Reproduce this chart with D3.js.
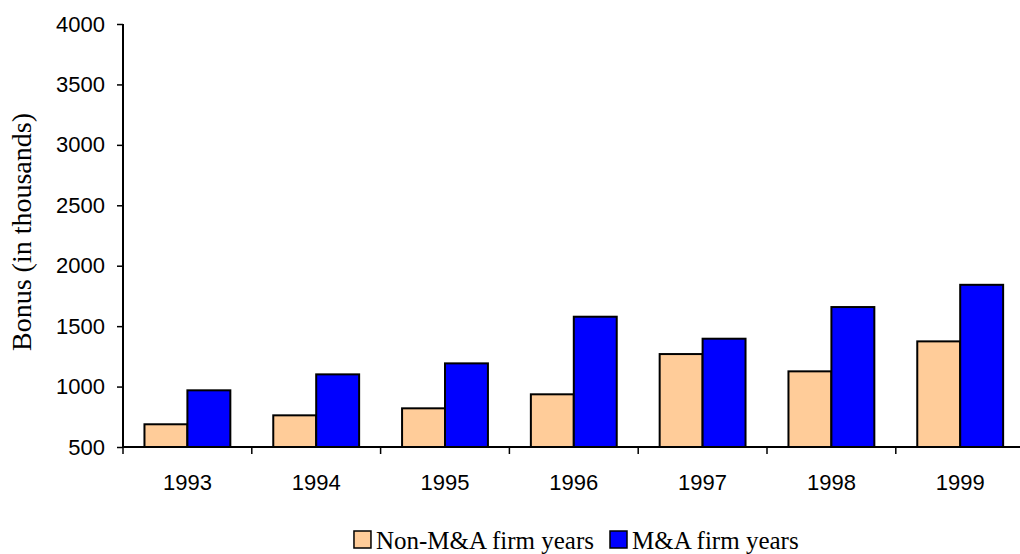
<!DOCTYPE html>
<html>
<head>
<meta charset="utf-8">
<script src="https://cdn.jsdelivr.net/npm/d3@7"></script>
<style>
  body { margin: 0; background: #fff; }
  svg { display: block; }
</style>
</head>
<body>
<div id="chart-area"></div>
<script>
// values
var years = ["1993", "1994", "1995", "1996", "1997", "1998", "1999"];
var nonMA = [688, 762, 820, 936, 1269, 1126, 1374];
var withMA = [969, 1101, 1192, 1578, 1396, 1658, 1842];
var seriesNames = ["Non-M&A firm years", "M&A firm years"];
var yTicks = [500, 1000, 1500, 2000, 2500, 3000, 3500, 4000];

var width = 1020, height = 554;
var plotLeft = 123, plotTop = 24, plotBottom = 447;
var bandW = 128.8;

var svg = d3.select("#chart-area").append("svg")
	.attr("width", width)
	.attr("height", height);

var x = d3.scaleBand()
	.domain(years)
	.range([plotLeft, plotLeft + bandW * years.length]);

// two bars per year, half a bar of gap on each side
var x1 = d3.scaleBand()
	.domain([0, 1])
	.range([0, x.bandwidth()])
	.paddingOuter(0.5)
	.paddingInner(0);

var y = d3.scaleLinear()
	.domain([500, 4000])
	.range([plotBottom, plotTop]);

var colors = ["#FFCC99", "#0000FF"];

var rows = years.map(function(yr, i){
	return {year: yr, vals: [nonMA[i], withMA[i]]};
});

// bars
var groups = svg.selectAll("g.year")
	.data(rows)
	.enter().append("g")
		.attr("class", "year")
		.attr("transform", function(d){ return "translate(" + x(d.year) + ",0)"; });

groups.selectAll("rect")
	.data(function(d){ return d.vals; })
	.enter().append("rect")
		.attr("x", function(d, i){ return x1(i); })
		.attr("y", function(d){ return y(d); })
		.attr("width", x1.bandwidth())
		.attr("height", function(d){ return y(500) - y(d); })
		.style("fill", function(d, i){ return colors[i]; })
		.style("stroke", "#000")
		.style("stroke-width", 2);

// y axis
var yAxis = svg.append("g")
	.attr("transform", "translate(" + plotLeft + ",0)")
	.call(d3.axisLeft(y).tickValues(yTicks).tickSize(6).tickPadding(12).tickFormat(d3.format("d")));
yAxis.select(".domain").attr("d", "M0," + plotTop + "V" + plotBottom).style("stroke-width", 2);
yAxis.selectAll(".tick line").style("stroke-width", 1.5);
yAxis.selectAll("text")
	.style("font-family", "'Liberation Sans', Arial, sans-serif")
	.style("font-size", "22px")
	.style("fill", "#000");

// x axis (ticks at band edges)
var xAxis = svg.append("g")
	.attr("transform", "translate(0," + plotBottom + ")");
xAxis.append("line")
	.attr("x1", plotLeft).attr("x2", width)
	.style("stroke", "#000").style("stroke-width", 2);
xAxis.selectAll("line.tick")
	.data(years)
	.enter().append("line")
		.attr("class", "tick")
		.attr("x1", function(d){ return x(d); })
		.attr("x2", function(d){ return x(d); })
		.attr("y1", 0).attr("y2", 7)
		.style("stroke", "#000").style("stroke-width", 1.5);
xAxis.selectAll("text")
	.data(years)
	.enter().append("text")
		.attr("x", function(d){ return x(d) + x.bandwidth() / 2; })
		.attr("y", 43)
		.attr("text-anchor", "middle")
		.style("font-family", "'Liberation Sans', Arial, sans-serif")
		.style("font-size", "22px")
		.text(function(d){ return d; });

// y label
svg.append("text")
	.attr("transform", "translate(31,232) rotate(-90)")
	.attr("text-anchor", "middle")
	.style("font-family", "'Liberation Serif', 'Times New Roman', serif")
	.style("font-size", "28px")
	.text("Bonus (in thousands)");

// legend
var leg = svg.selectAll("g.leg")
	.data(seriesNames)
	.enter().append("g")
		.attr("class", "leg");
leg.append("rect")
	.attr("width", 17).attr("height", 17)
	.attr("y", 531)
	.style("fill", function(d, i){ return colors[i]; })
	.style("stroke", "#000").style("stroke-width", 1.5);
leg.append("text")
	.attr("x", 22).attr("y", 549)
	.style("font-family", "'Liberation Serif', 'Times New Roman', serif")
	.style("font-size", "25px")
	.text(function(d){ return d; });
// place entries: blue one starts at 610, the first one sits just before it
var w0 = leg.filter(function(d, i){ return i === 0; }).select("text").node().getComputedTextLength();
leg.attr("transform", function(d, i){
	var lx = i === 1 ? 610 : 610 - 38 - w0;
	return "translate(" + lx + ",0)";
});
</script>
</body>
</html>
